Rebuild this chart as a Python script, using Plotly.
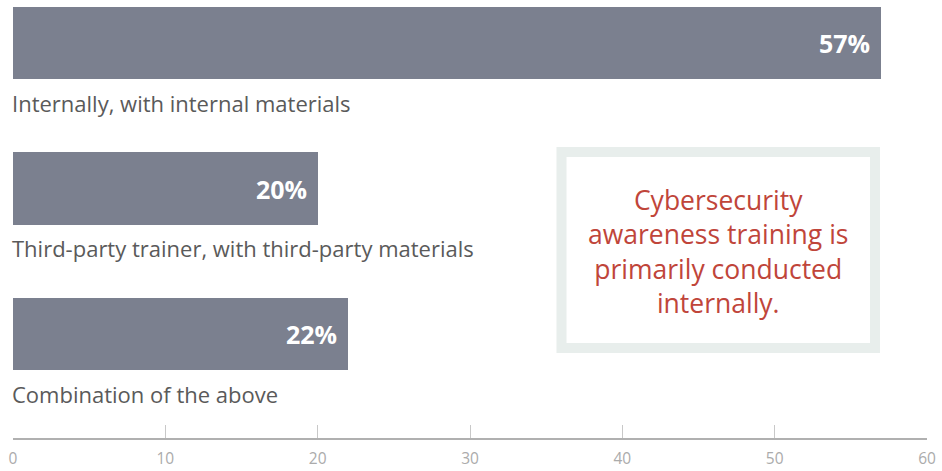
import plotly.graph_objects as go

categories = ["Internally, with internal materials",
              "Third-party trainer, with third-party materials",
              "Combination of the above"]
values = [57, 20, 22]
value_labels = ["57%", "20%", "22%"]
callout_text = "Cybersecurity<br>awareness training is<br>primarily conducted<br>internally."
x_ticks = [0, 10, 20, 30, 40, 50, 60]

FONT = "Open Sans"
BAR_COLOR = "#7b808f"
ypos = list(range(len(categories)))

fig = go.Figure()
fig.add_trace(go.Bar(
    x=values, y=ypos, orientation="h", width=0.495,
    marker=dict(color=BAR_COLOR, line=dict(width=0)),
    hoverinfo="skip", showlegend=False,
))

annotations = []
for i, (v, lab, cat) in enumerate(zip(values, value_labels, categories)):
    annotations.append(dict(
        x=v, y=i, xref="x", yref="y", text="<b>" + lab + "</b>",
        showarrow=False, xanchor="right", yanchor="middle", xshift=-9,
        font=dict(family=FONT, size=25, color="white"),
    ))
    annotations.append(dict(
        x=0, y=i + 0.412, xref="x", yref="y", text=cat,
        showarrow=False, xanchor="left", yanchor="middle", xshift=-3,
        font=dict(family=FONT, size=22, color="#5a5a5a"),
    ))

# callout box geometry (pixel -> paper)
L, PW, PH = 13, 914, 438
def px(x):
    return (x - L) / PW
def py(y):
    return 1 - y / PH

fig.add_shape(type="rect", xref="paper", yref="paper",
              x0=px(561.5), x1=px(875), y0=py(152), y1=py(348),
              line=dict(color="#e8eeec", width=10), fillcolor="white", layer="above")

annotations.append(dict(
    x=px(718), y=py(251), xref="paper", yref="paper", text=callout_text,
    showarrow=False, xanchor="center", yanchor="middle", align="center",
    font=dict(family=FONT, size=26.5, color="#c0453a"),
))

fig.update_layout(
    width=942, height=471,
    margin=dict(l=13, r=15, t=0, b=33, autoexpand=False),
    paper_bgcolor="white", plot_bgcolor="white",
    annotations=annotations,
    xaxis=dict(
        range=[0, 60], tickvals=x_ticks, ticktext=[str(t) for t in x_ticks],
        showgrid=False, zeroline=False, automargin=False,
        showline=True, linecolor="#b0b0b0", linewidth=1.5,
        ticks="inside", ticklen=13, tickcolor="#c8c8c8", tickwidth=1,
        tickfont=dict(family=FONT, size=15.5, color="#ababab"),
        ticklabelstandoff=6, fixedrange=True,
    ),
    yaxis=dict(
        range=[2.7148, -0.2955], showgrid=False, zeroline=False,
        showticklabels=False, showline=False, fixedrange=True, automargin=False,
    ),
    bargap=0,
)

fig.write_html("out.html", config={"displayModeBar": False},
               post_script="document.body.style.margin='0px';document.body.style.padding='0px';")
